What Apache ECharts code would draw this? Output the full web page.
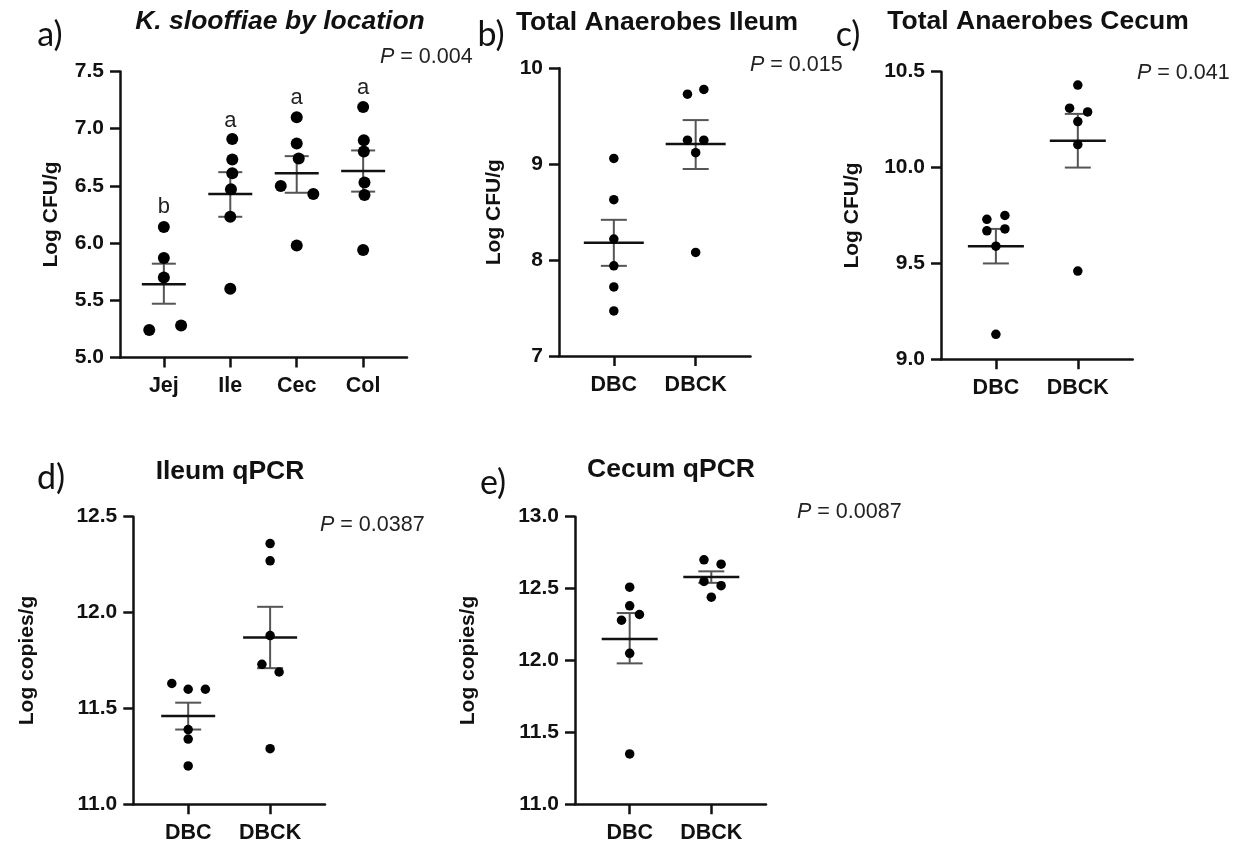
<!DOCTYPE html>
<html><head><meta charset="utf-8">
<script src="https://cdn.jsdelivr.net/npm/echarts@6/dist/echarts.min.js"></script>
<style>html,body{margin:0;padding:0;background:#fff}#c{width:1244px;height:845px}</style>
</head><body><div id="c"></div>
<script>
// ---------- Data ----------
// Panel a: K. slooffiae by location
const aCategories = ['Jej', 'Ile', 'Cec', 'Col'];
const aValues = [
  [5.24, 5.28, 5.70, 5.87, 6.14],
  [6.91, 6.73, 6.61, 6.47, 6.23, 5.60],
  [7.10, 6.87, 6.74, 6.50, 6.43, 5.98],
  [7.19, 6.90, 6.80, 6.53, 6.42, 5.94]
];
const aJitter = [
  [-0.22, 0.26, 0, 0, 0],
  [0.03, 0.03, 0.03, 0.01, 0, 0],
  [0, 0, 0.03, -0.24, 0.25, 0],
  [0, 0.01, 0.01, 0.02, 0.02, 0]
];
const aMean = [5.64, 6.43, 6.61, 6.63];
const aSemLow = [5.47, 6.23, 6.44, 6.45];
const aSemHigh = [5.82, 6.62, 6.76, 6.81];
const aLetters = ['b', 'a', 'a', 'a'];
const aLetterY = [6.32, 7.07, 7.27, 7.36];

// Panel b: Total Anaerobes Ileum
const bCategories = ['DBC', 'DBCK'];
const bValues = [
  [9.06, 8.63, 8.22, 7.94, 7.72, 7.47],
  [9.73, 9.78, 9.25, 9.25, 9.12, 8.08]
];
const bJitter = [
  [0, 0, 0, 0, 0, 0],
  [-0.1, 0.1, -0.1, 0.1, 0, 0]
];
const bMean = [8.18, 9.21];
const bSemLow = [7.94, 8.95];
const bSemHigh = [8.42, 9.46];

// Panel c: Total Anaerobes Cecum
const cCategories = ['DBC', 'DBCK'];
const cValues = [
  [9.73, 9.75, 9.67, 9.68, 9.59, 9.13],
  [10.43, 10.31, 10.29, 10.24, 10.12, 9.46]
];
const cJitter = [
  [-0.11, 0.11, -0.11, 0.11, 0, 0],
  [0, -0.1, 0.12, 0, 0, 0]
];
const cMean = [9.59, 10.14];
const cSemLow = [9.50, 10.00];
const cSemHigh = [9.68, 10.28];

// Panel d: Ileum qPCR
const dCategories = ['DBC', 'DBCK'];
const dValues = [
  [11.63, 11.60, 11.60, 11.39, 11.34, 11.20],
  [12.36, 12.27, 11.88, 11.73, 11.69, 11.29]
];
const dJitter = [
  [-0.2, 0, 0.21, 0, 0, 0],
  [0, 0, 0, -0.1, 0.11, 0]
];
const dMean = [11.46, 11.87];
const dSemLow = [11.39, 11.71];
const dSemHigh = [11.53, 12.03];

// Panel e: Cecum qPCR
const eCategories = ['DBC', 'DBCK'];
const eValues = [
  [12.51, 12.38, 12.28, 12.32, 12.05, 11.35],
  [12.70, 12.67, 12.55, 12.52, 12.44]
];
const eJitter = [
  [0, 0, -0.1, 0.12, 0, 0],
  [-0.09, 0.12, -0.09, 0.12, 0]
];
const eMean = [12.15, 12.58];
const eSemLow = [11.98, 12.54];
const eSemHigh = [12.33, 12.62];

// Titles / labels
const panelTags = ['a)', 'b)', 'c)', 'd)', 'e)'];
const panelTitles = ['K. slooffiae by location', 'Total Anaerobes Ileum', 'Total Anaerobes Cecum', 'Ileum qPCR', 'Cecum qPCR'];
const pValues = ['0.004', '0.015', '0.041', '0.0387', '0.0087'];
const yNames = ['Log CFU/g', 'Log CFU/g', 'Log CFU/g', 'Log copies/g', 'Log copies/g'];
// y axis ranges [min, max, interval, decimals]
const yRanges = [[5, 7.5, 0.5, 1], [7, 10, 1, 0], [9, 10.5, 0.5, 1], [11, 12.5, 0.5, 1], [11, 13, 0.5, 1]];

// ---------- Layout / style ----------
const FONT = '"Liberation Sans", Arial, sans-serif';
const INK = '#111';
const panels = [
  {cats: aCategories, vals: aValues, jit: aJitter, mean: aMean, lo: aSemLow, hi: aSemHigh,
   grid: {left: 120, top: 71.5, width: 287, height: 286}, pad: 0.66, dot: 12, meanHalf: 22, capHalf: 12, nameGap: 58},
  {cats: bCategories, vals: bValues, jit: bJitter, mean: bMean, lo: bSemLow, hi: bSemHigh,
   grid: {left: 559, top: 68.3, width: 191.5, height: 287.7}, pad: 0.67, dot: 9.5, meanHalf: 30, capHalf: 13, nameGap: 54.5},
  {cats: cCategories, vals: cValues, jit: cJitter, mean: cMean, lo: cSemLow, hi: cSemHigh,
   grid: {left: 941, top: 71.7, width: 191.7, height: 287.6}, pad: 0.67, dot: 9.5, meanHalf: 28, capHalf: 13, nameGap: 78},
  {cats: dCategories, vals: dValues, jit: dJitter, mean: dMean, lo: dSemLow, hi: dSemHigh,
   grid: {left: 133.3, top: 516.7, width: 191.7, height: 287.6}, pad: 0.67, dot: 9.5, meanHalf: 27, capHalf: 13, nameGap: 95.5},
  {cats: eCategories, vals: eValues, jit: eJitter, mean: eMean, lo: eSemLow, hi: eSemHigh,
   grid: {left: 575, top: 516.7, width: 191, height: 287.6}, pad: 0.67, dot: 9.5, meanHalf: 28, capHalf: 13, nameGap: 96.5}
];
const tagPos = [[50, 35], [491, 35], [848, 35], [51, 478], [493, 483]];
const titlePos = [[280, 22], [657, 23], [1038, 22], [230, 472], [671, 470]];
const pPos = [[380, 57], [750, 65], [1137, 73], [320, 525], [797, 512]];

const grids = [], xAxes = [], yAxes = [], series = [], graphics = [];

panels.forEach((p, k) => {
  grids.push(Object.assign({containLabel: false}, p.grid));
  const n = p.cats.length;
  const idx = p.cats.map((_, i) => i);
  xAxes.push({
    type: 'value', gridIndex: k, min: -p.pad, max: n - 1 + p.pad,
    splitLine: {show: false},
    axisLine: {show: true, onZero: false, lineStyle: {color: INK, width: 2.5}},
    axisTick: {show: true, customValues: idx, length: 10, lineStyle: {color: INK, width: 2.5}},
    axisLabel: {customValues: idx, formatter: v => p.cats[Math.round(v)], margin: 18,
      fontFamily: FONT, fontWeight: 'bold', fontSize: 21.5, color: INK}
  });
  const yr = yRanges[k];
  yAxes.push({
    type: 'value', gridIndex: k, min: yr[0], max: yr[1], interval: yr[2],
    splitLine: {show: false},
    axisLine: {show: true, onZero: false, lineStyle: {color: INK, width: 2.5}},
    axisTick: {show: true, length: 10, lineStyle: {color: INK, width: 2.5}},
    axisLabel: {formatter: v => v.toFixed(yr[3]), margin: 16,
      fontFamily: FONT, fontWeight: 'bold', fontSize: 21, color: INK},
    name: yNames[k], nameLocation: 'middle', nameGap: p.nameGap,
    nameTextStyle: {fontFamily: FONT, fontWeight: 'bold', fontSize: 21, color: INK}
  });
  // mean +/- SEM
  series.push({
    type: 'custom', xAxisIndex: k, yAxisIndex: k, clip: false, z: 3,
    data: p.mean.map((m, i) => [i, m, p.lo[i], p.hi[i]]),
    renderItem: (params, api) => {
      const x = api.value(0);
      const c = api.coord([x, api.value(1)]);
      const lo = api.coord([x, api.value(2)]);
      const hi = api.coord([x, api.value(3)]);
      const sem = {stroke: '#555', lineWidth: 2};
      return {type: 'group', children: [
        {type: 'line', shape: {x1: c[0], y1: hi[1], x2: c[0], y2: lo[1]}, style: sem},
        {type: 'line', shape: {x1: c[0] - p.capHalf, y1: hi[1], x2: c[0] + p.capHalf, y2: hi[1]}, style: sem},
        {type: 'line', shape: {x1: c[0] - p.capHalf, y1: lo[1], x2: c[0] + p.capHalf, y2: lo[1]}, style: sem},
        {type: 'line', shape: {x1: c[0] - p.meanHalf, y1: c[1], x2: c[0] + p.meanHalf, y2: c[1]}, style: {stroke: '#111', lineWidth: 2.5}}
      ]};
    }
  });
  // points
  const pts = [];
  p.vals.forEach((arr, i) => arr.forEach((v, j) => pts.push([i + p.jit[i][j], v])));
  series.push({
    type: 'scatter', xAxisIndex: k, yAxisIndex: k, z: 4,
    symbol: 'circle', symbolSize: p.dot, itemStyle: {color: '#000', opacity: 1},
    data: pts
  });
  graphics.push({type: 'text', x: tagPos[k][0], y: tagPos[k][1],
    style: {text: panelTags[k], fontFamily: 'Lato, "Open Sans", sans-serif', fontSize: 34, fill: INK,
      align: 'center', verticalAlign: 'middle', textAlign: 'center', textVerticalAlign: 'middle'}});
  graphics.push({type: 'text', x: titlePos[k][0], y: titlePos[k][1],
    style: {text: panelTitles[k], fontFamily: FONT, fontWeight: 'bold', fontStyle: k === 0 ? 'italic' : 'normal',
      fontSize: 26.5, fill: INK, align: 'center', verticalAlign: 'middle', textAlign: 'center', textVerticalAlign: 'middle'}});
  graphics.push({type: 'text', x: pPos[k][0], y: pPos[k][1],
    style: {text: '{i|P} = ' + pValues[k], fontFamily: FONT, fontSize: 21.5, fill: '#222',
      rich: {i: {fontStyle: 'italic', fontFamily: FONT, fontSize: 21.5, fill: '#222', color: '#222'}},
      align: 'left', verticalAlign: 'middle', textAlign: 'left', textVerticalAlign: 'middle'}});
});

// significance letters for panel a
series.push({
  type: 'custom', xAxisIndex: 0, yAxisIndex: 0, clip: false, z: 5,
  data: aLetters.map((t, i) => [i, aLetterY[i], t]),
  renderItem: (params, api) => {
    const c = api.coord([api.value(0), api.value(1)]);
    return {type: 'text', x: c[0], y: c[1],
      style: {text: aLetters[params.dataIndex], fontFamily: FONT, fontSize: 22, fill: '#222',
        align: 'center', verticalAlign: 'middle', textAlign: 'center', textVerticalAlign: 'middle'}};
  }
});

const chart = echarts.init(document.getElementById('c'), null, {renderer: 'canvas'});
chart.setOption({
  animation: false, backgroundColor: '#fff',
  grid: grids, xAxis: xAxes, yAxis: yAxes, series: series, graphic: graphics
});
</script></body></html>
